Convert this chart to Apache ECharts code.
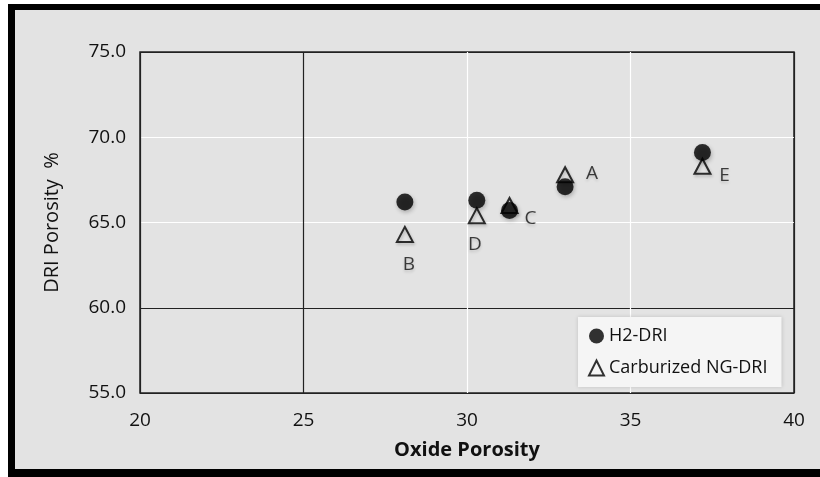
<!DOCTYPE html>
<html>
<head>
<meta charset="utf-8">
<script src="https://cdn.jsdelivr.net/npm/echarts@6/dist/echarts.min.js"></script>
<style>
html,body{margin:0;padding:0;background:#fff;}
#chart{width:820px;height:477px;}
</style>
</head>
<body>
<div id="chart"></div>
<script>
// ---- data ----
var sampleNames = ['A', 'B', 'C', 'D', 'E'];
var oxidePorosity = [33.0, 28.1, 31.3, 30.3, 37.2];
var h2DriPorosity = [67.1, 66.2, 65.7, 66.3, 69.1];
var ngDriPorosity = [67.8, 64.3, 66.0, 65.4, 68.3];
var xTicks = [20, 25, 30, 35, 40];
var yTicks = [55.0, 60.0, 65.0, 70.0, 75.0];
var seriesNames = ['H2-DRI', 'Carburized NG-DRI'];
var xAxisTitle = 'Oxide Porosity';
var yAxisTitle = 'DRI Porosity  %';

// ---- label placement (style, not data) ----
var labelOffsets = {A: [27, -1], B: [4, 30], C: [21, 13], D: [-2, 29], E: [22, 9]};

var chart = echarts.init(document.getElementById('chart'));
var font = '"Open Sans", Lato, sans-serif';

var h2Data = sampleNames.map(function (n, i) { return [oxidePorosity[i], h2DriPorosity[i]]; });
var ngData = sampleNames.map(function (n, i) {
  return {
    value: [oxidePorosity[i], ngDriPorosity[i]],
    name: n,
    label: {show: true, formatter: n, position: 'inside', offset: labelOffsets[n]}
  };
});

var option = {
  animation: false,
  backgroundColor: '#ffffff',
  graphic: [
    {type: 'rect', z: -10, shape: {x: 8, y: 4, width: 820, height: 480}, style: {fill: '#000'}},
    {type: 'rect', z: -9, shape: {x: 15, y: 10, width: 810, height: 459}, style: {fill: '#e3e3e3'}}
  ],
  grid: {left: 140, right: 26, top: 52, bottom: 84, show: true, borderColor: '#222', borderWidth: 1.5, backgroundColor: 'transparent'},
  xAxis: {
    type: 'value', min: xTicks[0], max: xTicks[xTicks.length - 1], interval: 5,
    name: xAxisTitle, nameLocation: 'middle', nameGap: 47,
    nameTextStyle: {fontFamily: font, fontSize: 20, fontWeight: 'bold', color: '#111'},
    axisLine: {show: false}, axisTick: {show: false},
    axisLabel: {fontFamily: font, fontSize: 19, color: '#111', margin: 18},
    splitLine: {show: true, lineStyle: {color: ['#222', '#222', '#ffffff', '#ffffff', '#222'], width: 1.2}}
  },
  yAxis: {
    type: 'value', min: yTicks[0], max: yTicks[yTicks.length - 1], interval: 5,
    name: yAxisTitle, nameLocation: 'middle', nameGap: 78,
    nameTextStyle: {fontFamily: font, fontSize: 20, color: '#111'},
    axisLine: {show: false}, axisTick: {show: false},
    axisLabel: {fontFamily: font, fontSize: 19, color: '#111', margin: 14,
      formatter: function (v) { return v.toFixed(1); }},
    splitLine: {show: true, lineStyle: {color: ['#222', '#222', '#ffffff', '#ffffff', '#222'], width: 1.2}}
  },
  legend: {
    left: 578, top: 317, orient: 'vertical',
    backgroundColor: '#f5f5f5', padding: [10, 14, 10, 10], itemGap: 14, itemWidth: 15, itemHeight: 15,
    shadowBlur: 4, shadowColor: 'rgba(0,0,0,0.15)',
    textStyle: {fontFamily: font, fontSize: 18, color: '#111'},
    data: seriesNames
  },
  series: [
    {
      name: seriesNames[1], type: 'scatter', z: 2,
      symbol: 'triangle', symbolSize: [16, 15],
      itemStyle: {color: 'rgba(0,0,0,0)', borderColor: '#000', borderWidth: 2,
        shadowBlur: 3, shadowColor: 'rgba(0,0,0,0.25)', shadowOffsetX: 1, shadowOffsetY: 2},
      label: {fontFamily: font, fontSize: 19, color: '#111', textShadowBlur: 3, textShadowColor: 'rgba(0,0,0,0.2)', textShadowOffsetY: 2},
      data: ngData
    },
    {
      name: seriesNames[0], type: 'scatter', z: 3,
      symbol: 'circle', symbolSize: 17,
      itemStyle: {color: '#000', shadowBlur: 4, shadowColor: 'rgba(0,0,0,0.3)', shadowOffsetX: 1, shadowOffsetY: 2},
      data: h2Data
    }
  ]
};
chart.setOption(option);
</script>
</body>
</html>
